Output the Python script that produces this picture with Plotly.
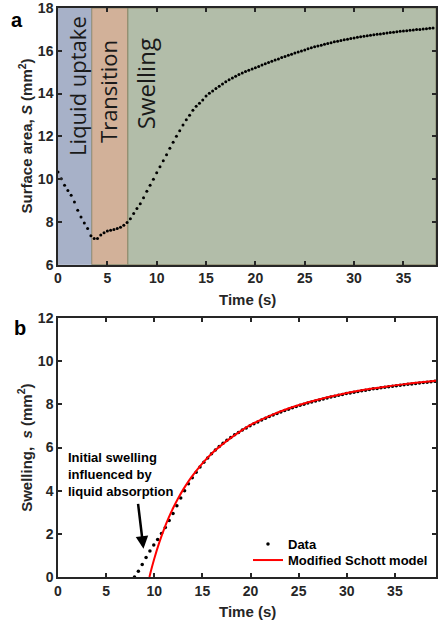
import numpy as np
import plotly.graph_objects as go
from plotly.subplots import make_subplots

# ---------------- Panel a data ----------------
dt_a = 1.0 / 3.0
S_area = [
    10.33, 10.01, 9.71, 9.47, 9.24, 8.93, 8.54, 8.23, 7.95, 7.69,
    7.35, 7.22, 7.22, 7.38, 7.49, 7.57, 7.61, 7.64, 7.69, 7.75,
    7.84, 7.97, 8.15, 8.39, 8.62, 8.85, 9.13, 9.43, 9.71, 9.99,
    10.30, 10.58, 10.86, 11.14, 11.44, 11.72, 12.00, 12.26, 12.53, 12.78,
    12.99, 13.22, 13.40, 13.55, 13.70, 13.88, 14.01, 14.12, 14.23, 14.34,
    14.45, 14.55, 14.65, 14.73, 14.81, 14.89, 14.96, 15.03, 15.09, 15.15,
    15.21, 15.27, 15.33, 15.39, 15.45, 15.51, 15.57, 15.62, 15.68, 15.73,
    15.79, 15.84, 15.89, 15.94, 15.99, 16.04, 16.09, 16.14, 16.19, 16.22,
    16.26, 16.30, 16.34, 16.38, 16.42, 16.45, 16.48, 16.51, 16.54, 16.57,
    16.60, 16.63, 16.65, 16.68, 16.70, 16.73, 16.75, 16.77, 16.79, 16.81,
    16.83, 16.85, 16.87, 16.89, 16.91, 16.93, 16.94, 16.96, 16.97, 16.99,
    17.00, 17.02, 17.03, 17.05, 17.06,
]
t_area = [i * dt_a for i in range(len(S_area))]

phase_edges = [0.0, 3.42, 7.08, 38.3]
phase_names = ["Liquid uptake", "Transition", "Swelling"]
phase_colors = ["#a7b1c8", "#d2b199", "#b2bda9"]
phase_label_t = [1.85, 5.0, 8.95]
phase_label_S = [14.37, 14.09, 14.45]
phase_label_size = [22, 22, 24]

# ---------------- Panel b data ----------------
t0_b = 7.95
dt_b = 0.4
s_swell = [
    0.00, 0.27, 0.58, 0.90, 1.20, 1.48, 1.74, 2.02, 2.30, 2.62,
    2.94, 3.30, 3.66, 4.00, 4.32, 4.60, 4.86, 5.10, 5.32, 5.52,
    5.71, 5.89, 6.05, 6.20, 6.34, 6.47,
    6.59, 6.70, 6.81, 6.91, 7.01, 7.10, 7.19, 7.28, 7.36, 7.44,
    7.51, 7.58, 7.65, 7.72, 7.78, 7.84, 7.90, 7.96, 8.01, 8.06,
    8.11, 8.16, 8.21, 8.25, 8.30, 8.34, 8.38, 8.42, 8.46, 8.50,
    8.53, 8.56, 8.60, 8.63, 8.66, 8.69, 8.72, 8.74, 8.77, 8.79,
    8.82, 8.84, 8.86, 8.89, 8.91, 8.93, 8.95, 8.97, 8.99, 9.01,
    9.03, 9.05, 9.07,
]
t_swell = [t0_b + i * dt_b for i in range(len(s_swell))]

model_t = [9.5, 9.7, 10.0, 10.5, 11.0, 11.5, 12.0, 12.5, 13.0, 13.5, 14.0,
           15.0, 16.0, 17.0, 18.0, 20.0, 22.0, 24.0, 26.0, 28.0, 30.0, 32.0,
           34.0, 36.0, 38.0, 39.3]
model_s = [0.0, 0.36, 0.85, 1.57, 2.20, 2.75, 3.23, 3.66, 4.05, 4.40, 4.71,
           5.27, 5.74, 6.12, 6.46, 7.05, 7.47, 7.82, 8.10, 8.33, 8.53, 8.69,
           8.82, 8.94, 9.04, 9.10]

x_ticks = [0, 5, 10, 15, 20, 25, 30, 35]
ya_ticks = [6, 8, 10, 12, 14, 16, 18]
yb_ticks = [0, 2, 4, 6, 8, 10, 12]

FONT = "Liberation Sans, Arial, Helvetica, sans-serif"
AX = "#262626"

fig = make_subplots(rows=2, cols=1, vertical_spacing=0.09)

fig.add_trace(go.Scatter(x=t_area, y=S_area, mode="markers",
                         marker=dict(color="black", size=3),
                         showlegend=False), row=1, col=1)

fig.add_trace(go.Scatter(x=t_swell, y=s_swell, mode="markers", name="Data",
                         legend="legend",
                         marker=dict(color="black", size=3.5)), row=2, col=1)
fig.add_trace(go.Scatter(x=model_t, y=model_s, mode="lines",
                         name="Modified Schott model", line_shape="spline",
                         legend="legend2",
                         line=dict(color="#ff0000", width=2)), row=2, col=1)

# phase background regions
for i in range(3):
    fig.add_shape(type="rect", xref="x", yref="y domain",
                  x0=phase_edges[i], x1=phase_edges[i + 1], y0=0, y1=1,
                  fillcolor=phase_colors[i],
                  line=dict(width=0.8, color="#7d7f5e" if i > 0 else phase_colors[i]),
                  layer="below")
    fig.add_annotation(x=phase_label_t[i], y=phase_label_S[i], xref="x", yref="y",
                       text=phase_names[i], textangle=-90, showarrow=False,
                       xanchor="center", yanchor="middle",
                       font=dict(family="Open Sans, sans-serif", size=phase_label_size[i],
                                 color="#1a1a1a"))

axis_common = dict(showline=True, linecolor=AX, linewidth=1.5, mirror="ticks",
                   ticks="inside", ticklen=4, tickwidth=1.5, tickcolor=AX,
                   showgrid=False, zeroline=False, ticklabeloverflow="allow",
                   tickfont=dict(family=FONT, size=14, color="#262626", weight="bold"))

fig.update_xaxes(range=[0, 38.3], tickvals=x_ticks, row=1, col=1, **axis_common)
fig.update_xaxes(range=[0, 39.27], tickvals=x_ticks, row=2, col=1, **axis_common)
fig.update_yaxes(range=[6, 18], tickvals=ya_ticks, row=1, col=1, **axis_common)
fig.update_yaxes(range=[0, 12], tickvals=yb_ticks, row=2, col=1, **axis_common)

legend_font = dict(family=FONT, size=13, color="black", weight="bold")
fig.update_layout(
    width=438, height=626,
    margin=dict(l=58, r=0, t=5, b=49),
    plot_bgcolor="white", paper_bgcolor="white",
    font=dict(family=FONT, color="#262626"),
    legend=dict(x=(249 - 58) / 380, y=(577 - 544) / 572, xanchor="left", yanchor="middle",
                bgcolor="rgba(0,0,0,0)", font=legend_font),
    legend2=dict(x=(249 - 58) / 380, y=(577 - 560) / 572, xanchor="left", yanchor="middle",
                 bgcolor="rgba(0,0,0,0)", font=legend_font),
)
fig.update_layout(yaxis=dict(domain=[0.549, 1.0]), yaxis2=dict(domain=[0.0, 0.455]))

title_font = dict(family=FONT, size=15, color="#262626", weight="bold")
# axis titles as annotations
fig.add_annotation(xref="paper", yref="paper", x=0.5, y=(577 - 298) / 572,
                   text="Time (s)", showarrow=False, xanchor="center", yanchor="middle",
                   font=title_font)
fig.add_annotation(xref="paper", yref="paper", x=0.5, y=(577 - 612) / 572,
                   text="Time (s)", showarrow=False, xanchor="center", yanchor="middle",
                   font=title_font)
fig.add_annotation(xref="paper", yref="paper", x=(25 - 58) / 380, y=(577 - 134) / 572,
                   text="Surface area, <i>S</i> (mm<sup>2</sup>)", textangle=-90,
                   showarrow=False, xanchor="center", yanchor="middle", font=title_font)
fig.add_annotation(xref="paper", yref="paper", x=(25 - 58) / 380, y=(577 - 447) / 572,
                   text="Swelling,  <i>s</i> (mm<sup>2</sup>)", textangle=-90,
                   showarrow=False, xanchor="center", yanchor="middle", font=title_font)

# panel letters
fig.add_annotation(xref="paper", yref="paper", x=(17 - 58) / 380, y=(577 - 17) / 572,
                   text="a", showarrow=False, xanchor="center", yanchor="middle",
                   font=dict(family=FONT, size=20, color="black", weight="bold"))
fig.add_annotation(xref="paper", yref="paper", x=(20 - 58) / 380, y=(577 - 327) / 572,
                   text="b", showarrow=False, xanchor="center", yanchor="middle",
                   font=dict(family=FONT, size=20, color="black", weight="bold"))

# annotation in panel b
fig.add_annotation(xref="x2", yref="y2", x=0.85, y=6.0,
                   text="Initial swelling<br>influenced by<br>liquid absorption",
                   showarrow=False, xanchor="left", yanchor="top", align="left",
                   font=dict(family=FONT, size=13, color="black", weight="bold"))
fig.add_annotation(xref="x2", yref="y2", x=8.88, y=1.31, ax=8.30, ay=3.46,
                   axref="x2", ayref="y2", text="", showarrow=True,
                   arrowhead=2, arrowsize=1, arrowwidth=2.5, arrowcolor="black")

fig.write_html("out.html")
